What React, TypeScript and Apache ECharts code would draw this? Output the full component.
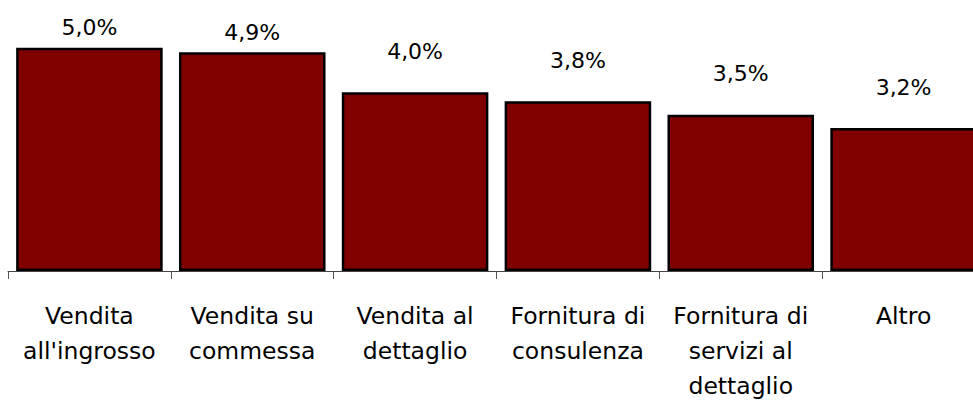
import React, { useEffect, useRef } from "react";
import * as echarts from "echarts";

const categories = [
  "Vendita\nall'ingrosso",
  "Vendita su\ncommessa",
  "Vendita al\ndettaglio",
  "Fornitura di\nconsulenza",
  "Fornitura di\nservizi al\ndettaglio",
  "Altro",
];
const values = [5.0, 4.9, 4.0, 3.8, 3.5, 3.2];

const FONT = "'DejaVu Sans', sans-serif";

export default function App() {
  const ref = useRef<HTMLDivElement>(null);
  useEffect(() => {
    if (!ref.current) return;
    const chart = echarts.init(ref.current, undefined, { renderer: "svg" });
    chart.setOption({
      animation: false,
      grid: { left: 8, top: 3, width: 977, height: 275, containLabel: false },
      xAxis: {
        type: "category",
        data: categories,
        axisLine: { show: true, lineStyle: { color: "#444", width: 1 } },
        axisTick: { show: true, length: 8, lineStyle: { color: "#555", width: 1 } },
        axisLabel: {
          interval: 0,
          margin: 27,
          color: "#000",
          fontFamily: FONT,
          fontSize: 23.5,
          lineHeight: 35,
          align: "center",
        },
      },
      yAxis: {
        type: "value",
        min: 0,
        max: 6,
        show: false,
        splitLine: { show: false },
      },
      series: [
        {
          type: "bar",
          barCategoryGap: "10%",
          data: values.map((v) => ({
            value: v,
            label: { distance: v >= 4.5 ? 9 : 30 },
          })),
          itemStyle: { color: "#800000", borderColor: "#000", borderWidth: 2.5 },
          label: {
            show: true,
            position: "top",
            color: "#000",
            fontFamily: FONT,
            fontSize: 22,
            lineHeight: 22,
            formatter: (p: any) => p.value.toFixed(1).replace(".", ",") + "%",
          },
        },
      ],
    });
    return () => chart.dispose();
  }, []);
  return (
    <div style={{ position: "fixed", left: 0, top: 0, width: 973, height: 403, overflow: "hidden", background: "#fff" }}>
      <div ref={ref} style={{ width: 1000, height: 403 }} />
    </div>
  );
}
